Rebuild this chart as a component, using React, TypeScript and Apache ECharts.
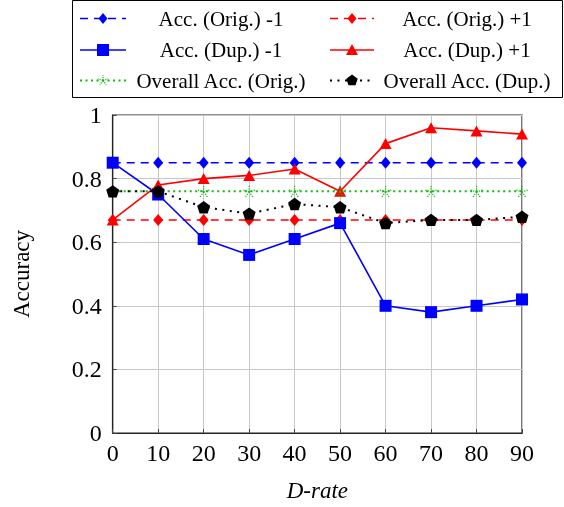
import React, { useEffect, useRef } from "react";
import * as echarts from "echarts";

const dRates = [0, 10, 20, 30, 40, 50, 60, 70, 80, 90];
const accOrigNeg = [0.85, 0.85, 0.85, 0.85, 0.85, 0.85, 0.85, 0.85, 0.85, 0.85];
const accOrigPos = [0.67, 0.67, 0.67, 0.67, 0.67, 0.67, 0.67, 0.67, 0.67, 0.67];
const accDupNeg = [0.85, 0.75, 0.61, 0.56, 0.61, 0.66, 0.40, 0.38, 0.40, 0.42];
const accDupPos = [0.67, 0.78, 0.80, 0.81, 0.83, 0.76, 0.91, 0.96, 0.95, 0.94];
const overallOrig = [0.76, 0.76, 0.76, 0.76, 0.76, 0.76, 0.76, 0.76, 0.76, 0.76];
const overallDup = [0.76, 0.76, 0.71, 0.69, 0.72, 0.71, 0.66, 0.67, 0.67, 0.68];
const seriesNames = [
  "Acc. (Orig.) -1",
  "Acc. (Orig.) +1",
  "Acc. (Dup.) -1",
  "Acc. (Dup.) +1",
  "Overall Acc. (Orig.)",
  "Overall Acc. (Dup.)",
];

const BLUE = "#0000ff";
const RED = "#ff0000";
const GREEN = "#11bb11";
const BLACK = "#000000";
const FONT = "'Liberation Serif', 'Times New Roman', serif";

const PENTAGON = "path://M0,-1 L0.951,-0.309 L0.588,0.809 L-0.588,0.809 L-0.951,-0.309 Z";
const STAR = "path://M0,0 L0,-1 M0,0 L0.951,-0.309 M0,0 L0.588,0.809 M0,0 L-0.588,0.809 M0,0 L-0.951,-0.309";

const pairs = (ys: number[]) => dRates.map((x, i) => [x, ys[i]]);

function legendMarker(kind: string, cx: number, cy: number, color: string): any {
  if (kind === "diamond") {
    return { type: "polygon", shape: { points: [[cx, cy - 5.5], [cx + 4.5, cy], [cx, cy + 5.5], [cx - 4.5, cy]] }, style: { fill: color } };
  }
  if (kind === "square") {
    return { type: "rect", shape: { x: cx - 6, y: cy - 6, width: 12, height: 12 }, style: { fill: color } };
  }
  if (kind === "triangle") {
    return { type: "polygon", shape: { points: [[cx, cy - 6], [cx + 6, cy + 5], [cx - 6, cy + 5]] }, style: { fill: color } };
  }
  if (kind === "pentagon") {
    const pts: number[][] = [];
    for (let k = 0; k < 5; k++) {
      const a = -Math.PI / 2 + (k * 2 * Math.PI) / 5;
      pts.push([cx + 6 * Math.cos(a), cy + 6 * Math.sin(a)]);
    }
    return { type: "polygon", shape: { points: pts }, style: { fill: color } };
  }
  const children: any[] = [];
  for (let k = 0; k < 5; k++) {
    const a = -Math.PI / 2 + (k * 2 * Math.PI) / 5;
    children.push({
      type: "line",
      shape: { x1: cx, y1: cy, x2: cx + 5.5 * Math.cos(a), y2: cy + 5.5 * Math.sin(a) },
      style: { stroke: color, lineWidth: 1.3, lineDash: [1.2, 1.2] },
    });
  }
  return { type: "group", children };
}

export default function App() {
  const ref = useRef<HTMLDivElement>(null);
  useEffect(() => {
    if (!ref.current) return;
    const chart = echarts.init(ref.current, undefined, { renderer: "svg" });

    const legendItems = [
      { name: seriesNames[0], color: BLUE, dash: [8, 6], width: 1.5, marker: "diamond", col: 0, row: 0 },
      { name: seriesNames[1], color: RED, dash: [8, 6], width: 1.5, marker: "diamond", col: 1, row: 0 },
      { name: seriesNames[2], color: BLUE, dash: null, width: 1.5, marker: "square", col: 0, row: 1 },
      { name: seriesNames[3], color: RED, dash: null, width: 1.5, marker: "triangle", col: 1, row: 1 },
      { name: seriesNames[4], color: GREEN, dash: [2, 3.5], width: 2, marker: "star", col: 0, row: 2 },
      { name: seriesNames[5], color: BLACK, dash: [2, 5.5], width: 2, marker: "pentagon", col: 1, row: 2 },
    ];
    const colLineX = [[80, 126], [330, 374]];
    const colMarkX = [103, 352];
    const colTextX = [221, 467];
    const rowY = [18.5, 50, 80.5];

    const graphics: any[] = [
      { type: "rect", shape: { x: 72.5, y: 0.5, width: 490, height: 97 }, style: { fill: "#fff", stroke: "#000", lineWidth: 1 } },
    ];
    legendItems.forEach((it) => {
      const y = rowY[it.row];
      graphics.push({
        type: "line",
        shape: { x1: colLineX[it.col][0], y1: y, x2: colLineX[it.col][1], y2: y },
        style: { stroke: it.color, lineWidth: it.width, lineDash: it.dash || undefined },
      });
      graphics.push(legendMarker(it.marker, colMarkX[it.col], y, it.color));
      graphics.push({
        type: "text",
        x: colTextX[it.col],
        y: y,
        style: { text: it.name, fill: "#000", font: `21px ${FONT}`, align: "center", verticalAlign: "middle" },
      });
    });

    chart.setOption({
      animation: false,
      grid: { left: 112.7, right: 42, top: 115, bottom: 72, show: true, borderColor: "#222", borderWidth: 1.2 },
      xAxis: {
        type: "value",
        min: 0,
        max: 90,
        interval: 10,
        name: "D-rate",
        nameLocation: "middle",
        nameGap: 46,
        nameTextStyle: { fontFamily: FONT, fontSize: 23, fontStyle: "italic", color: "#000" },
        axisLine: { show: true, lineStyle: { color: "#222", width: 1.2 } },
        axisTick: { show: true, inside: true, length: 4, lineStyle: { color: "#444" } },
        axisLabel: { fontFamily: FONT, fontSize: 24, color: "#000", margin: 8 },
        splitLine: { show: true, lineStyle: { color: "#c8c8c8", width: 1 } },
      },
      yAxis: {
        type: "value",
        min: 0,
        max: 1,
        interval: 0.2,
        name: "Accuracy",
        nameLocation: "middle",
        nameGap: 80,
        nameTextStyle: { fontFamily: FONT, fontSize: 23, color: "#000" },
        axisLine: { show: true, lineStyle: { color: "#222", width: 1.2 } },
        axisTick: { show: true, inside: true, length: 4, lineStyle: { color: "#444" } },
        axisLabel: {
          fontFamily: FONT,
          fontSize: 24,
          color: "#000",
          margin: 11,
          formatter: (v: number) => (v === 0 ? "0" : v === 1 ? "1" : v.toFixed(1)),
        },
        splitLine: { show: true, lineStyle: { color: "#c8c8c8", width: 1 } },
      },
      graphic: graphics,
      series: [
        {
          name: seriesNames[0], type: "line", data: pairs(accOrigNeg),
          symbol: "diamond", symbolSize: [10, 12],
          lineStyle: { color: BLUE, width: 1.6, type: [8, 6] }, itemStyle: { color: BLUE },
        },
        {
          name: seriesNames[1], type: "line", data: pairs(accOrigPos),
          symbol: "diamond", symbolSize: [10, 12],
          lineStyle: { color: RED, width: 1.6, type: [8, 6] }, itemStyle: { color: RED },
        },
        {
          name: seriesNames[2], type: "line", data: pairs(accDupNeg),
          symbol: "rect", symbolSize: 12,
          lineStyle: { color: BLUE, width: 1.6 }, itemStyle: { color: BLUE },
        },
        {
          name: seriesNames[3], type: "line", data: pairs(accDupPos),
          symbol: "triangle", symbolSize: [12, 11],
          lineStyle: { color: RED, width: 1.6 }, itemStyle: { color: RED },
        },
        {
          name: seriesNames[4], type: "line", data: pairs(overallOrig),
          symbol: STAR, symbolSize: 12, symbolKeepAspect: true,
          lineStyle: { color: GREEN, width: 2, type: [2, 3.5] },
          itemStyle: { color: "none", borderColor: GREEN, borderWidth: 1.3, borderType: [1.2, 1.2] },
        },
        {
          name: seriesNames[5], type: "line", data: pairs(overallDup),
          symbol: PENTAGON, symbolSize: 13, symbolKeepAspect: true,
          lineStyle: { color: BLACK, width: 2, type: [2, 5.5] }, itemStyle: { color: BLACK },
        },
      ],
    });
    return () => chart.dispose();
  }, []);
  return <div ref={ref} style={{ position: "fixed", left: 0, top: 0, width: 564, height: 507 }} />;
}
